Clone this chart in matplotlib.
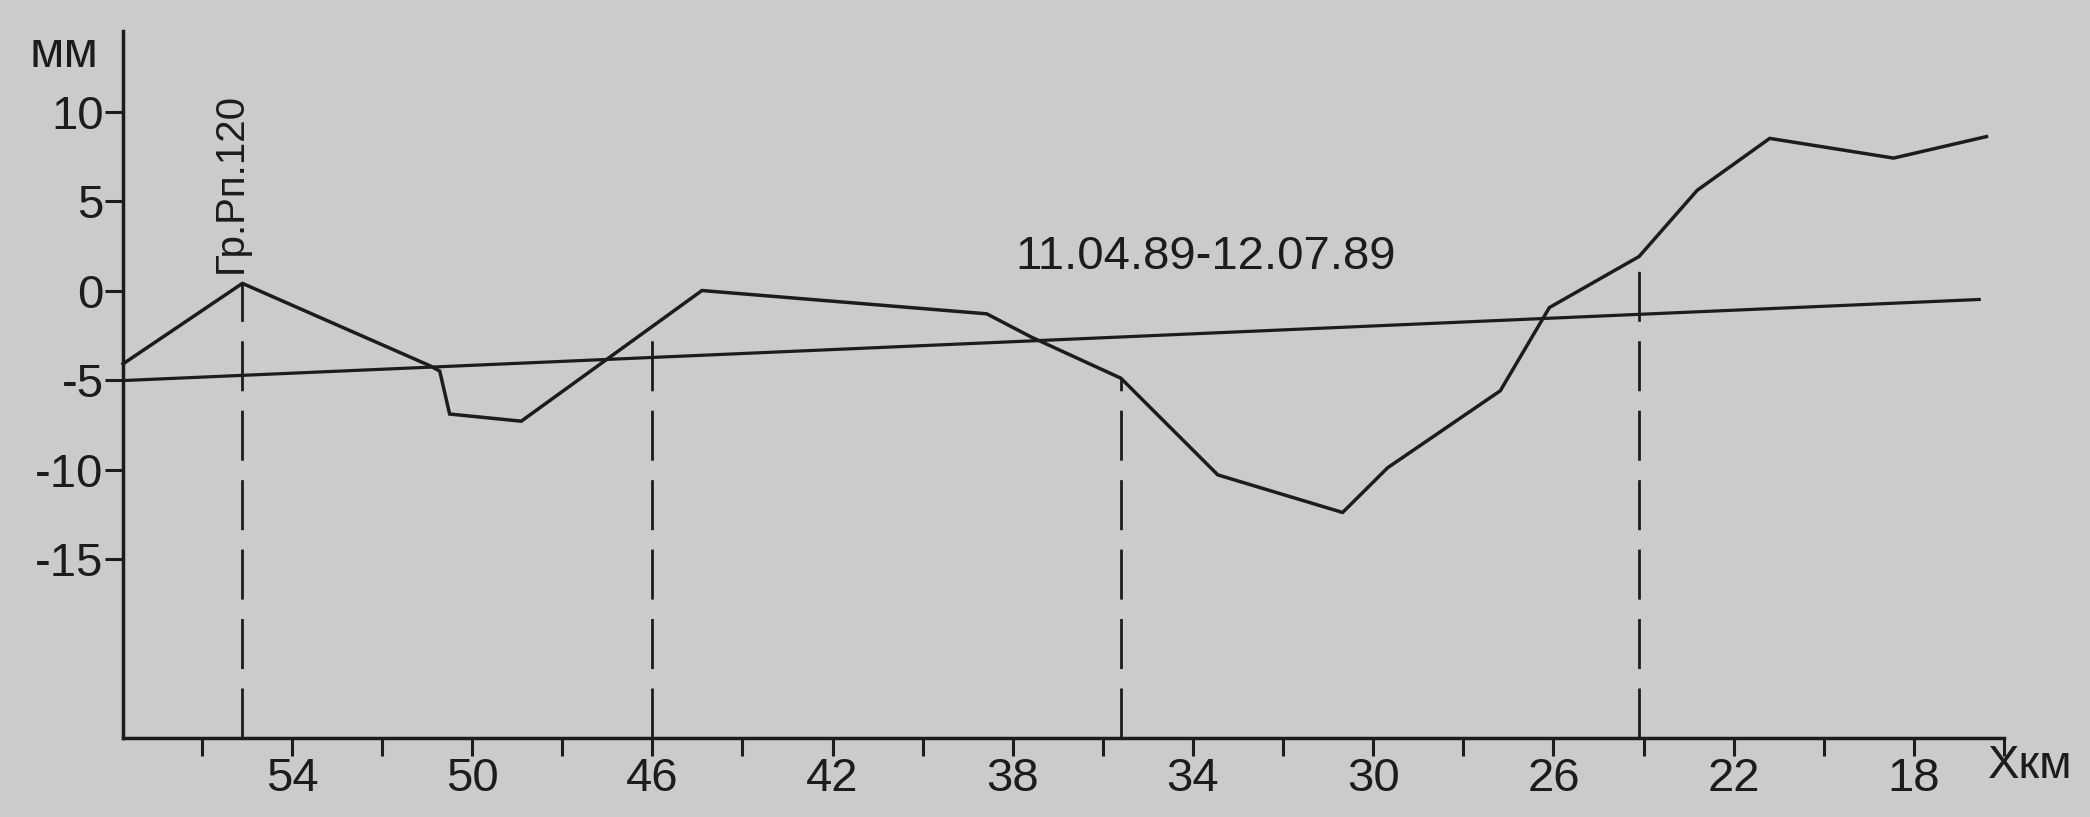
import numpy as np
import matplotlib
matplotlib.use("Agg")
import matplotlib.pyplot as plt

plt.rcParams['font.family'] = ['Liberation Sans Narrow', 'Liberation Sans', 'DejaVu Sans']
plt.rcParams['axes.unicode_minus'] = False

# ---- data ----
profile_km = [57.75, 55.1, 50.94, 50.72, 50.5, 48.91, 44.9, 38.58, 37.59, 35.6,
              33.45, 30.68, 29.68, 27.18, 26.09, 24.1, 22.81, 21.2, 18.45, 16.39]
profile_mm = [-4.1, 0.4, -4.2, -4.5, -6.9, -7.3, 0.0, -1.3, -2.6, -4.9,
              -10.3, -12.4, -9.9, -5.6, -0.95, 1.9, 5.6, 8.5, 7.4, 8.6]

trend_km = [57.75, 16.55]
trend_mm = [-5.03, -0.5]

marker_km = [55.1, 46.0, 35.6, 24.1]

x_ticks = list(range(16, 57, 2))
x_labeled = [54, 50, 46, 42, 38, 34, 30, 26, 22, 18]
y_ticks = [10, 5, 0, -5, -10, -15]
y_tick_labels = ['10', '5', '0', '-5', '-10', '-15']

period_label = '11.04.89-12.07.89'
benchmark_label = 'Гр.Рп.120'
x_axis_label = 'Хкм'
y_axis_label = 'мм'

# ---- figure ----
W, H = 2090, 817
bg = '#cbccc9'
ink = '#1c1c1c'
fig = plt.figure(figsize=(W / 100, H / 100), dpi=100, facecolor=bg)
ax = fig.add_axes([123 / W, 1 - 738 / H, (2004 - 123) / W, (738 - 31) / H])
ax.set_facecolor(bg)
ax.set_xlim(57.75, 16.05)
ax.set_ylim(-25.0, 14.5)

ax.plot(profile_km, profile_mm, color=ink, lw=2.5, solid_joinstyle='miter', clip_on=False)
ax.plot(trend_km, trend_mm, color=ink, lw=2.3, clip_on=False)

# dashed verticals from the curve down to the axis
xs = np.array(profile_km)[::-1]
ys = np.array(profile_mm)[::-1]
for xm in marker_km:
    ytop = np.interp(xm, xs, ys)
    ax.plot([xm, xm], [-25.0, ytop], color=ink, lw=2.0, linestyle=(0, (18, 7)))

for s in ['top', 'right']:
    ax.spines[s].set_visible(False)
for s in ['left', 'bottom']:
    ax.spines[s].set_linewidth(2.5)
    ax.spines[s].set_color(ink)

ax.set_xticks(x_ticks)
ax.set_xticklabels([str(t) if t in x_labeled else '' for t in x_ticks])
ax.set_yticks(y_ticks)
ax.set_yticklabels(y_tick_labels)
ax.tick_params(axis='both', direction='out', length=13, width=2.2, color=ink,
               labelcolor=ink, labelsize=34, pad=1)

ax.text(37.95, 1.9, period_label, fontsize=34, color=ink, ha='left', va='center')
ax.text(55.35, 6.0, benchmark_label, fontsize=29, color=ink, rotation=90,
        ha='center', va='center')

fig.text(1988 / W, 1 - 766 / H, x_axis_label, fontsize=34, color=ink, ha='left', va='center')
fig.text(64 / W, 1 - 54 / H, y_axis_label, fontsize=36, color=ink, ha='center', va='center')

fig.savefig('out.png', dpi=100, facecolor=bg)
